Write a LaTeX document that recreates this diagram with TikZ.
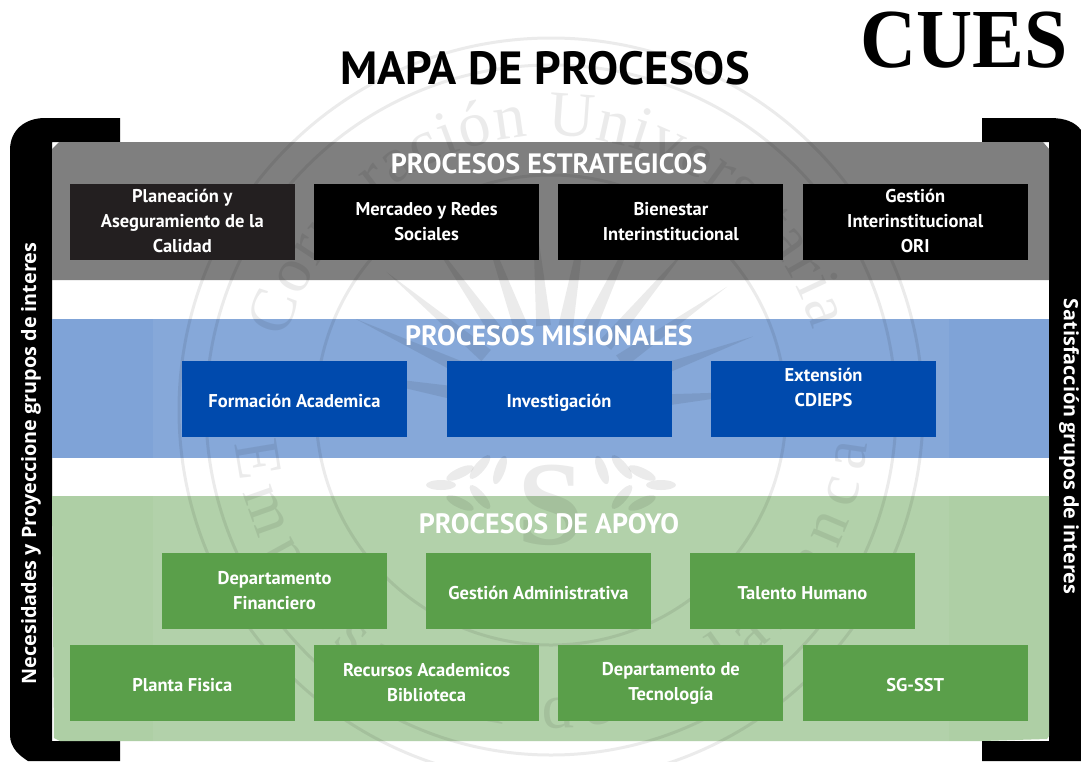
\documentclass[tikz,border=0pt]{standalone}
\usepackage{fontspec}
\setmainfont{PT Sans}
\newfontfamily\sidefont{Open Sans}
\newfontfamily\logofont{Liberation Serif}
\usetikzlibrary{positioning,decorations.text}
\definecolor{panelgray}{HTML}{7F7F7F}
\definecolor{panelblue}{HTML}{7FA3D7}
\definecolor{panelgreen}{HTML}{AECFA5}
\definecolor{boxblue}{HTML}{004AAD}
\definecolor{boxgreen}{HTML}{5A9F4A}
\definecolor{boxdark}{HTML}{231F20}
\tikzset{
    %Define style for boxes
    procbox/.style={
           rectangle,
           inner sep=0pt, outer sep=0pt,
           minimum width=225pt,
           minimum height=76pt,
           text=white,
           align=center,
           execute at begin node=\rule{0pt}{25pt},
           execute at end node=\rule[-2pt]{0pt}{2pt},
           font=\fontsize{18.5}{25}\selectfont\bfseries},
    oneline/.style={
           execute at begin node=\rule{0pt}{17.5pt},
           execute at end node=\rule[-7.5pt]{0pt}{7.5pt}},
    blackbox/.style={procbox, fill=black},
    bluebox/.style={procbox, fill=boxblue},
    greenbox/.style={procbox, fill=boxgreen},
    %Define style for headings
    panelhead/.style={
           inner sep=0pt, outer sep=0pt,
           text=white,
           font=\fontsize{28}{30}\selectfont\bfseries},
    sidetext/.style={
           inner sep=0pt, outer sep=0pt,
           text=white,
           font=\fontsize{19.8}{24}\sidefont\bfseries}
}
\begin{document}
\begin{tikzpicture}[x=1pt,y=-1pt,node distance=19.3pt]
\useasboundingbox (0,0) rectangle (1081,761);
\fill[white] (0,0) rectangle (1081,761);
% black side bands
\fill[black] (120,118) -- (45,118) .. controls (25,118) and (10,130) .. (10,150)
   -- (10,735) .. controls (10,748) and (20,756) .. (28,761) -- (120,761)
   -- (120,741) -- (52,741) -- (52,142) -- (120,142) -- cycle;
\fill[black] (982,118) -- (1050,118) .. controls (1065,118) and (1075,122) .. (1081,130)
   -- (1081,761) -- (982,761) -- (982,741) -- (1049,741) -- (1049,142) -- (982,142) -- cycle;
% panels
\fill[panelgray] (52,149) -- (59,142) -- (1043,142) -- (1049,149) -- (1049,280) -- (52,280) -- cycle;
\fill[panelblue] (52,319) rectangle (1049,458);
\fill[panelgreen] (52,496) -- (1049,496) -- (1049,736) -- (1047,739) -- (982,741) -- (60,741) -- (54,738) -- cycle;
% light band and seal behind the boxes
\fill[white,opacity=.06] (153,319) rectangle (949,458);
\fill[white,opacity=.06] (153,496) rectangle (949,741);
\begin{scope}[shift={(551,410)},y=1pt,opacity=.08]
\draw[line width=3pt] (0,0) circle (372pt);
\draw[line width=3pt] (0,0) circle (345pt);
\draw[line width=3pt] (0,0) circle (235pt);
\path[postaction={decorate,decoration={text along path,text align={fit to path},
   text={|\fontsize{64}{64}\logofont\color{black}|Corporación Universitaria}}}]
   (165:274pt) arc (165:17:274pt);
\path[postaction={decorate,decoration={text along path,text align={fit to path},
   text={|\fontsize{64}{64}\logofont\color{black}|Empresarial de Salamanca}}}]
   (186:318pt) arc (186:354:318pt);
\node[font=\fontsize{120}{120}\logofont\bfseries] (sealmark) at (0,-95pt) {S};
% rays of the seal
\foreach \ang in {5,20,...,175}
   \fill (\ang:215pt) -- (\ang-5:85pt) -- (\ang+5:85pt) -- cycle;
% laurel leaves
\foreach \sx in {-1,1}
   \foreach \lx/\ly/\la in {91/-63/-25,71/-57/-50,51/-60/-70,91/-93/25,71/-87/50,110/-75/0}
      \fill[shift={(\sx*\lx pt,\ly pt)},rotate=\sx*\la] (0,0) ellipse (15pt and 5pt);
\end{scope}
% titles
\node[inner sep=0pt,font=\fontsize{46.5}{50}\selectfont\bfseries] (title) at (545,68) {MAPA DE PROCESOS};
\node[inner sep=0pt,xscale=.925,font=\fontsize{84}{84}\logofont\bfseries] (logo) at (964,40) {CUES};
\node[panelhead] (headest) at (549,164) {PROCESOS ESTRATEGICOS};
\node[panelhead] (headmis) at (549,336) {PROCESOS MISIONALES};
\node[panelhead] (headapo) at (549,524) {PROCESOS DE APOYO};
% strategic row
\node[procbox,fill=boxdark] (plan) at (182.3,222) {Planeación y\\Aseguramiento de la\\Calidad};
\node[blackbox,right =of plan] (merc) {Mercadeo y Redes\\Sociales};
\node[blackbox,right =of merc] (bien) {Bienestar\\Interinstitucional};
\node[blackbox,right =of bien] (gest) {Gestión\\Interinstitucional\\ORI};
% missional row
\node[bluebox,oneline] (form) at (294.5,399) {Formación Academica};
\node[bluebox,oneline,right =39.5pt of form] (inve) {Investigación};
\node[bluebox,right =39.5pt of inve] (exte) {Extensión\\CDIEPS\\[-4pt]~};
% support rows
\node[greenbox] (depf) at (274.5,591) {Departamento\\Financiero};
\node[greenbox,oneline,right =39pt of depf] (gadm) {Gestión Administrativa};
\node[greenbox,oneline,right =39pt of gadm] (tale) {Talento Humano};
\node[greenbox,oneline] (plaf) at (182.3,683) {Planta Fisica};
\node[greenbox,right =of plaf] (recu) {Recursos Academicos\\Biblioteca};
\node[greenbox,right =of recu] (dept) {Departamento de\\Tecnología};
\node[greenbox,oneline,right =of dept] (sgst) {SG-SST};
% side labels
\node[sidetext,rotate=90] (sideleft) at (31,463.5) {Necesidades y Proyeccione grupos de interes};
\node[sidetext,rotate=-90] (sideright) at (1069,446.5) {Satisfacción grupos de interes};
\end{tikzpicture}
\end{document}
